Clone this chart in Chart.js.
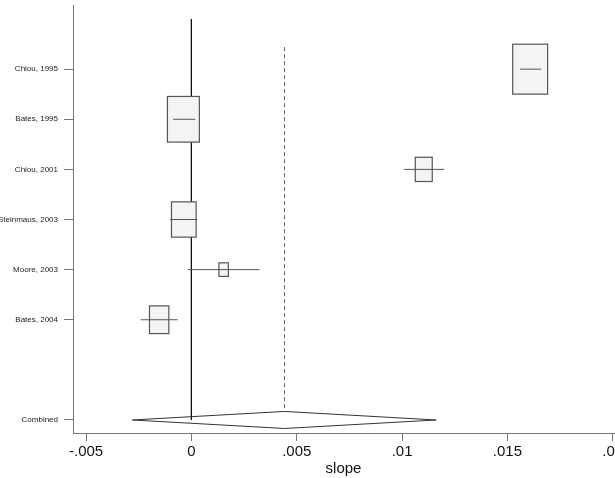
<!DOCTYPE html>
<html>
<head>
<meta charset="utf-8">
<script src="https://cdn.jsdelivr.net/npm/chart.js@4.4.0/dist/chart.umd.min.js"></script>
<style>
  html, body { margin: 0; padding: 0; background: #fff; }
  #wrap { width: 615px; height: 478px; }
</style>
</head>
<body>
<div id="wrap"><canvas id="forest"></canvas></div>
<script>
// study level estimates (slope)
const studies = ['Chiou, 1995', 'Bates, 1995', 'Chiou, 2001', 'Steinmaus, 2003', 'Moore, 2003', 'Bates, 2004'];
const slopes = [0.01608, -0.00038, 0.01103, -0.00036, 0.00153, -0.00153];
const ciLow = [0.0156, -0.00087, 0.0101, -0.00101, -0.00017, -0.0024];
const ciHigh = [0.0166, 0.00018, 0.01199, 0.00028, 0.00323, -0.00065];
const weights = [33.9, 28.3, 8.0, 16.9, 2.5, 10.4]; // % weight, box area

// pooled estimate
const combinedLabel = 'Combined';
const combinedEst = 0.00442;
const combinedLow = -0.0028;
const combinedHigh = 0.01162;

const xTicks = [-0.005, 0, 0.005, 0.01, 0.015, 0.02];

const combinedRow = studies.length + 2;
const yTicks = studies.map((s, i) => i + 1).concat([combinedRow]);

const FONT = "'Liberation Sans', Arial, sans-serif";
const diamondHalf = 0.17;

function fmtSlope(v) {
    if (v === 0) return '0';
    const s = String(Math.abs(v)).replace(/^0/, '');
    return (v < 0 ? '-' : '') + s;
}

const datasets = [];

// line of no effect
datasets.push({
    data: [{ x: 0, y: 0 }, { x: 0, y: combinedRow }],
    borderColor: '#111', borderWidth: 1, order: 3
});
// pooled estimate, dashed
datasets.push({
    data: [{ x: combinedEst, y: 0.56 }, { x: combinedEst, y: combinedRow - diamondHalf }],
    borderColor: '#666', borderWidth: 1, borderDash: [4, 3], order: 3
});
// diamond
datasets.push({
    data: [
        { x: combinedLow, y: combinedRow },
        { x: combinedEst, y: combinedRow - diamondHalf },
        { x: combinedHigh, y: combinedRow },
        { x: combinedEst, y: combinedRow + diamondHalf },
        { x: combinedLow, y: combinedRow }
    ],
    borderColor: '#333', borderWidth: 1, order: 2
});
// confidence intervals
studies.forEach((s, i) => {
    datasets.push({
        role: 'ci',
        data: [{ x: ciLow[i], y: i + 1 }, { x: ciHigh[i], y: i + 1 }],
        borderColor: '#555', borderWidth: 1, order: 1
    });
});

// weight boxes, drawn after the reference line but under the CI lines
let boxesDone = false;
const boxPlugin = {
    id: 'weightBoxes',
    beforeDatasetsDraw() { boxesDone = false; },
    beforeDatasetDraw(chart, args) {
        if (boxesDone || chart.data.datasets[args.index].role !== 'ci') return;
        boxesDone = true;
        const ctx = chart.ctx;
        const xs = chart.scales.x, ys = chart.scales.y;
        ctx.save();
        studies.forEach((s, i) => {
            const w = 6.0 * Math.sqrt(weights[i]);
            const h = w * 1.43;
            const cx = xs.getPixelForValue(slopes[i]);
            const cy = ys.getPixelForValue(i + 1);
            ctx.fillStyle = '#f4f4f4';
            ctx.strokeStyle = '#555';
            ctx.lineWidth = 1.2;
            ctx.fillRect(cx - w / 2, cy - h / 2, w, h);
            ctx.strokeRect(cx - w / 2, cy - h / 2, w, h);
        });
        ctx.restore();
    }
};

new Chart(document.getElementById('forest'), {
    type: 'scatter',
    data: { datasets: datasets },
    plugins: [boxPlugin],
    options: {
        responsive: true,
        maintainAspectRatio: false,
        animation: false,
        showLine: true,
        elements: { point: { radius: 0, hoverRadius: 0 }, line: { tension: 0 } },
        layout: { padding: { top: 5, right: 1, left: 0, bottom: 0 } },
        plugins: { legend: { display: false }, tooltip: { enabled: false } },
        scales: {
            x: {
                type: 'linear',
                min: -0.00562,
                max: 0.02006,
                afterBuildTicks: scale => { scale.ticks = xTicks.map(v => ({ value: v })); },
                afterFit: scale => { scale.height = 45; scale.paddingLeft = 0; scale.paddingRight = 0; },
                ticks: {
                    autoSkip: false, maxRotation: 0, padding: 2,
                    color: '#111', font: { family: FONT, size: 15 },
                    callback: v => fmtSlope(v)
                },
                grid: { drawOnChartArea: false, drawTicks: true, tickLength: 8, color: '#777' },
                border: { display: true, color: '#777', width: 1 },
                title: { display: true, text: 'slope', color: '#111', font: { family: FONT, size: 15 }, padding: { top: 0, bottom: 0 } }
            },
            y: {
                type: 'linear',
                reverse: true,
                min: -0.28,
                max: 8.26,
                afterBuildTicks: scale => { scale.ticks = yTicks.map(v => ({ value: v })); },
                afterFit: scale => { scale.width = 73; scale.paddingTop = 0; scale.paddingBottom = 0; },
                ticks: {
                    autoSkip: false, padding: 6,
                    color: '#222', font: { family: FONT, size: 8 },
                    callback: v => (v === combinedRow ? combinedLabel : studies[v - 1])
                },
                grid: { drawOnChartArea: false, drawTicks: true, tickLength: 9, color: '#777' },
                border: { display: true, color: '#777', width: 1 }
            }
        }
    }
});
</script>
</body>
</html>
